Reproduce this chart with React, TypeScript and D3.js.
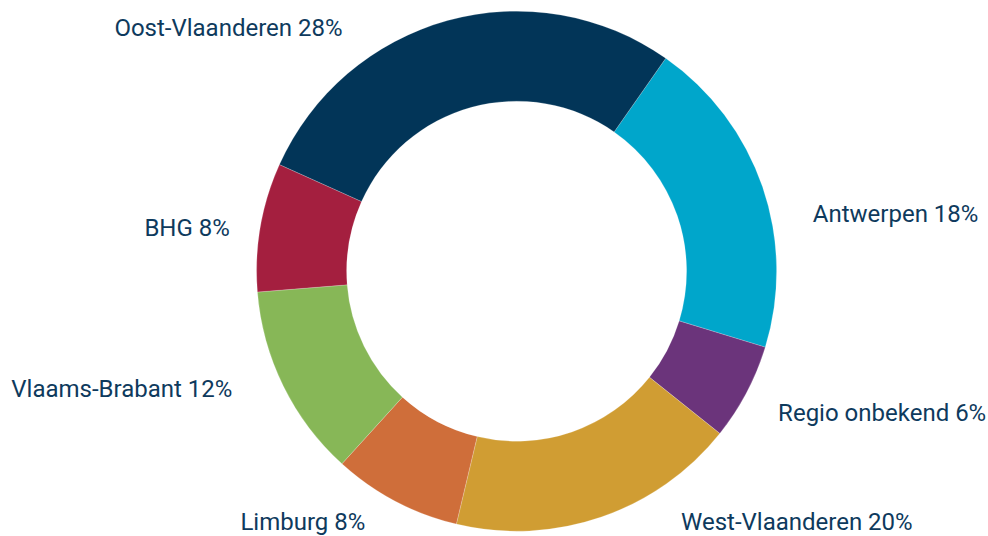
import React from "react";
import * as d3 from "d3";

const categories = ["Antwerpen", "Regio onbekend", "West-Vlaanderen", "Limburg", "Vlaams-Brabant", "BHG", "Oost-Vlaanderen"];
const shares = [20, 6, 18, 8, 12, 8, 28];
const labelPercents = ["18%", "6%", "20%", "8%", "12%", "8%", "28%"];
const colors = ["#00A6CB", "#6B347B", "#D09D33", "#CF6E3A", "#87B757", "#A41F3F", "#023558"];

// layout (not data)
const W = 988, H = 536;
const CX = 516.6, CY = 271.2;
const R_OUT = 260, R_IN = 170, R_LABEL = 290;
const START = (35 * Math.PI) / 180;
const labelNudge: [number, number][] = [
  [22, 37], [5, 6.5], [70, -23], [-16, -6], [-24, -10], [-1, 6], [-97, 36],
];

export default function App() {
  const pie = d3.pie<number>().sort(null).value((d) => d).startAngle(START).endAngle(START + 2 * Math.PI);
  const arcs = pie(shares);
  const arc = d3.arc<d3.PieArcDatum<number>>().innerRadius(R_IN).outerRadius(R_OUT);
  const labelArc = d3.arc<d3.PieArcDatum<number>>().innerRadius(R_LABEL).outerRadius(R_LABEL);
  return (
    <svg width={W} height={H} style={{ position: "absolute", left: 0, top: 0 }} fontFamily="Roboto, sans-serif">
      <rect width={W} height={H} fill="#fff" />
      <g transform={`translate(${CX},${CY})`}>
        {arcs.map((a, i) => (
          <path key={i} d={arc(a) || ""} fill={colors[i]} stroke="#fff" strokeWidth={0.2} />
        ))}
        {arcs.map((a, i) => {
          const [x, y] = labelArc.centroid(a);
          const mid = ((a.startAngle + a.endAngle) / 2) % (2 * Math.PI);
          const right = mid < Math.PI;
          return (
            <text
              key={"l" + i}
              x={x + labelNudge[i][0]}
              y={y + labelNudge[i][1]}
              textAnchor={right ? "start" : "end"}
              dominantBaseline="central"
              fontSize={24}
              fill="#0E3A5D"
            >
              {categories[i] + " " + labelPercents[i]}
            </text>
          );
        })}
      </g>
    </svg>
  );
}
